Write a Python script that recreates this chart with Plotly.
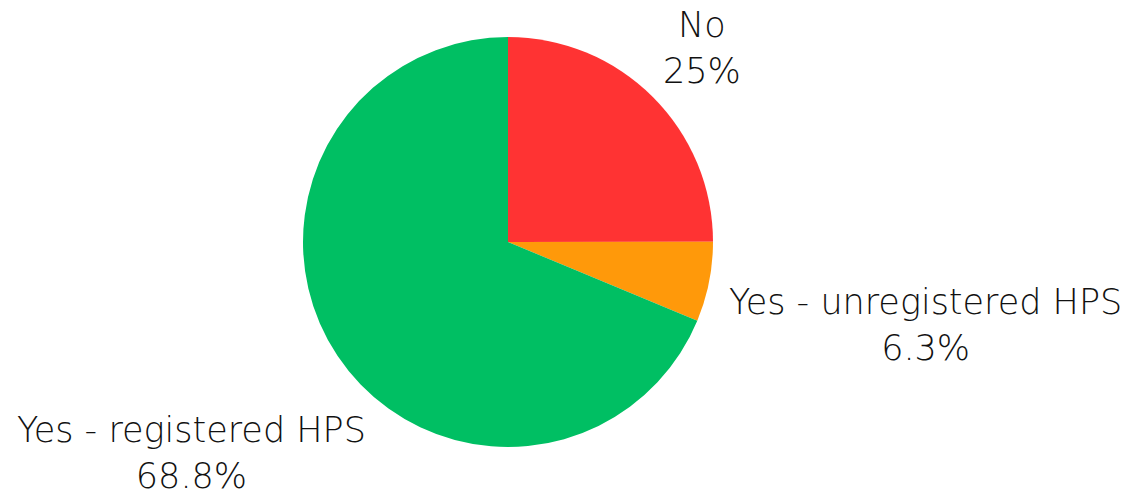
import math
import plotly.graph_objects as go

# Survey answers and their shares (percent)
labels = ["No", "Yes - unregistered HPS", "Yes - registered HPS"]
shares = [25, 6.3, 68.8]
colors = ["#FF3333", "#FF990A", "#00BF63"]

W, H = 1133, 497
dom_x = [303 / W, 713 / W]
dom_y = [50 / H, 460 / H]

# distance (px) from the pie centre to each label, along its slice's mid-angle
label_dist = [274, 426, 381]
label_font = dict(family="DejaVu Sans", size=35, color="#111111", weight=300)

fig = go.Figure(
    go.Pie(
        labels=labels,
        values=shares,
        marker=dict(colors=colors, line=dict(width=0)),
        sort=False,
        direction="clockwise",
        rotation=0,
        textinfo="none",
        hoverinfo="label+percent",
        showlegend=False,
        domain=dict(x=dom_x, y=dom_y),
    )
)

# labels placed outside each slice, on the slice's mid-angle
cx = (dom_x[0] + dom_x[1]) / 2 * W
cy = H - (dom_y[0] + dom_y[1]) / 2 * H
total = sum(shares)
cum = 0.0
for name, val, dist in zip(labels, shares, label_dist):
    ang = 2 * math.pi * (cum + val / 2) / total
    cum += val
    px = cx + dist * math.sin(ang)
    py = cy - dist * math.cos(ang)
    fig.add_annotation(
        x=px / W,
        y=1 - py / H,
        xref="paper",
        yref="paper",
        text=f"{name}<br>{val:g}%",
        showarrow=False,
        xanchor="center",
        yanchor="middle",
        align="center",
        font=label_font,
    )

fig.update_layout(
    width=W,
    height=H,
    margin=dict(l=0, r=0, t=0, b=0),
    paper_bgcolor="white",
    plot_bgcolor="white",
)

fig.write_html("out.html")
